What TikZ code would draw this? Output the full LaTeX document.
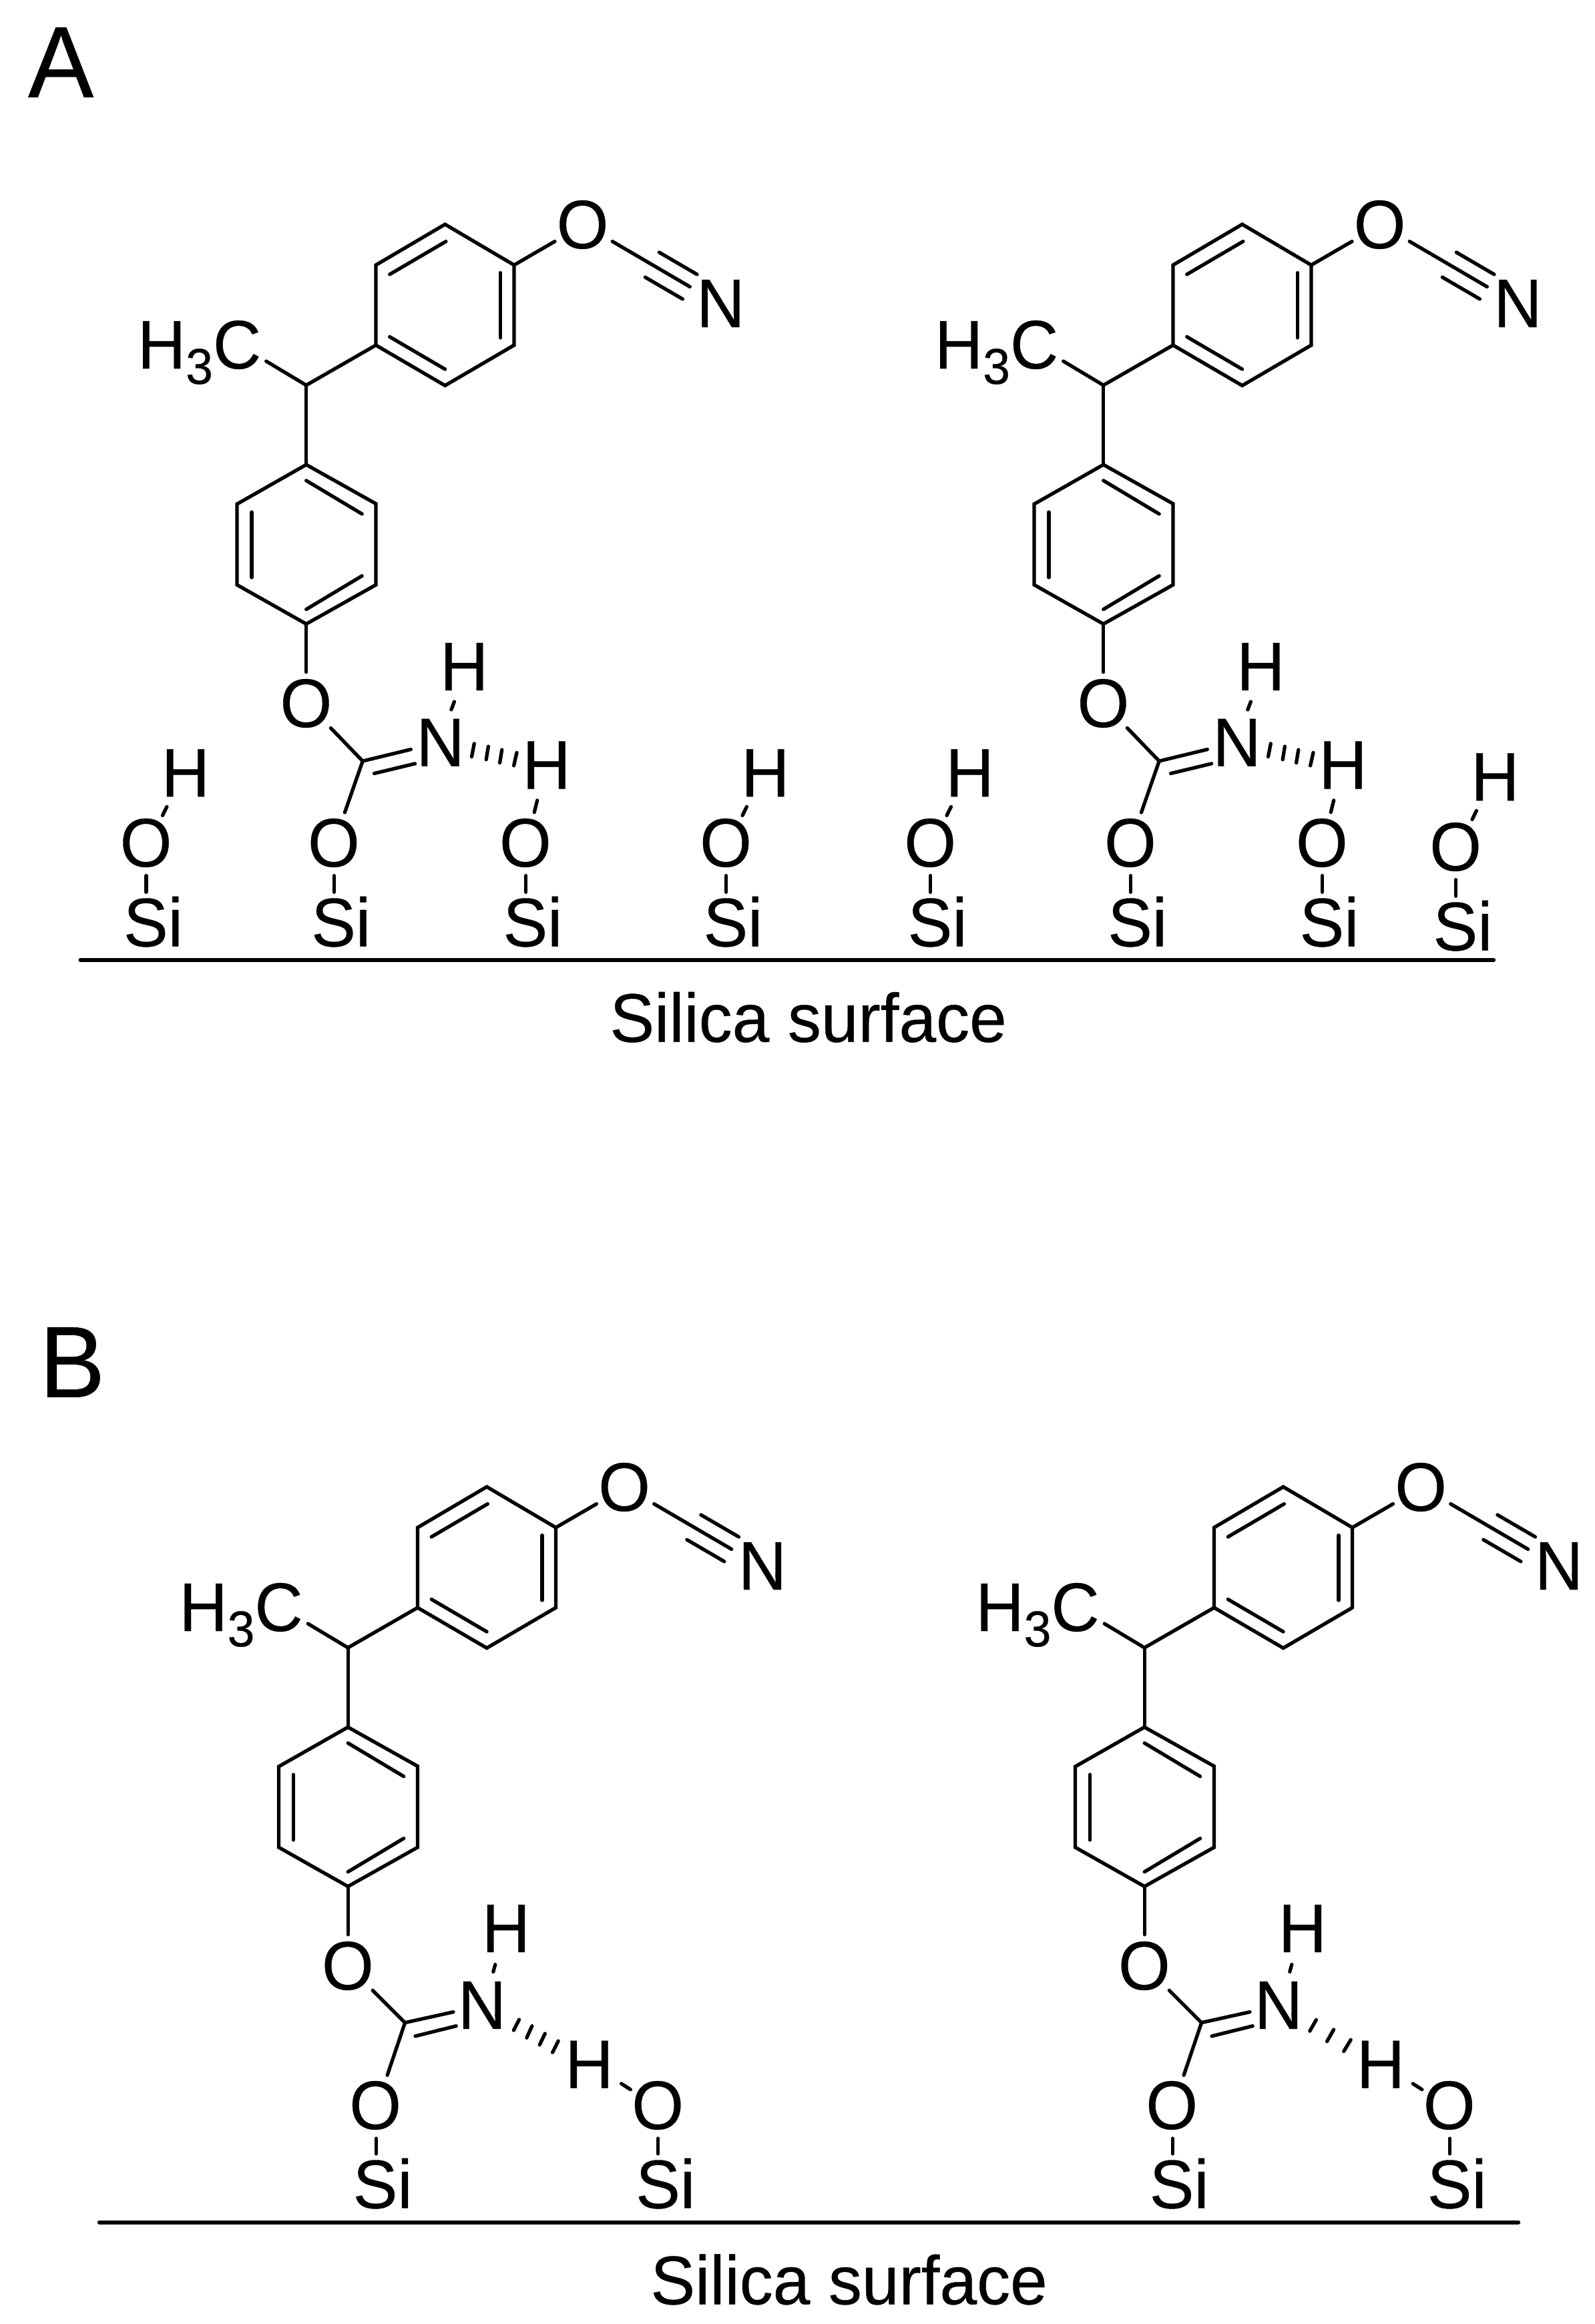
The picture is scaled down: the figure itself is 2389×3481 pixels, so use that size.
\documentclass[tikz,border=0pt]{standalone}
\usepackage{fontspec}
\setmainfont{Liberation Sans}
\newfontfamily\chemf{Liberation Sans}[FakeStretch=0.97,FakeBold=0.35]
\tikzset{
  atom/.style={inner sep=0pt,outer sep=0pt,anchor=base,font=\chemf\fontsize{29.3}{34}\selectfont},
  panel/.style={inner sep=0pt,outer sep=0pt,anchor=base west,font=\chemf\fontsize{43.2}{48}\selectfont},
  caption/.style={inner sep=0pt,outer sep=0pt,anchor=base west,font=\chemf\fontsize{29.3}{34}\selectfont},
  bond/.style={line width=1.5pt,line cap=round,line join=miter,black},
  surface/.style={line width=1.6pt,line cap=round,black}
}
% upper molecule: both rings, cyanate, CH3 and the carbamate O
\newcommand{\molupper}[3]{%
\begin{scope}[shift={(#2,#3)}]
  \coordinate (#1a1) at (666.6,336); \coordinate (#1a2) at (770,397);
  \coordinate (#1a3) at (770,517); \coordinate (#1a4) at (666.6,577.5);
  \coordinate (#1a5) at (563,517); \coordinate (#1a6) at (563,397);
  \coordinate (#1b1) at (458.7,696); \coordinate (#1b2) at (563,754.5);
  \coordinate (#1b3) at (563,876); \coordinate (#1b4) at (458.7,934.6);
  \coordinate (#1b5) at (355,876); \coordinate (#1b6) at (355,755);
  \coordinate (#1ch) at (458.7,577);
  \draw[bond] (#1a1)--(#1a2)--(#1a3)--(#1a4)--(#1a5)--(#1a6)--cycle;
  \draw[bond] (#1b1)--(#1b2)--(#1b3)--(#1b4)--(#1b5)--(#1b6)--cycle;
  \coordinate (#1ai1) at (583.7,411); \coordinate (#1ai2) at (667.9,361.6);
  \coordinate (#1ai3) at (749.5,408.6); \coordinate (#1ai4) at (749.5,506);
  \coordinate (#1ai5) at (583.7,504.5); \coordinate (#1ai6) at (666.6,553);
  \coordinate (#1bi1) at (458.7,719.8); \coordinate (#1bi2) at (542.2,769.8);
  \coordinate (#1bi3) at (377,767); \coordinate (#1bi4) at (377,865);
  \coordinate (#1bi5) at (458.7,912.7); \coordinate (#1bi6) at (542.2,862.6);
  \draw[bond] (#1ai1)--(#1ai2); \draw[bond] (#1ai3)--(#1ai4); \draw[bond] (#1ai5)--(#1ai6);
  \draw[bond] (#1bi1)--(#1bi2); \draw[bond] (#1bi3)--(#1bi4); \draw[bond] (#1bi5)--(#1bi6);
  \draw[bond] (#1ch)--(#1a5); \draw[bond] (#1ch)--(#1b1);
  \node[atom,anchor=base west] (#1me) at (206,552) {H\raisebox{-0.23cm}{\fontsize{21.5}{24}\selectfont 3}C};
  \coordinate (#1mee) at (398.7,541); \draw[bond] (#1mee)--(#1ch);
  \node[atom] (#1oc) at (872.6,372) {O};
  \node[atom] (#1nc) at (1079.5,490) {N};
  \coordinate (#1oce) at (831,361.6); \draw[bond] (#1a2)--(#1oce);
  \coordinate (#1t1) at (917.2,361.6); \coordinate (#1t2) at (1033.3,429.5);
  \coordinate (#1t3) at (987.4,378); \coordinate (#1t4) at (1044,411);
  \coordinate (#1t5) at (966.3,415.2); \coordinate (#1t6) at (1022.4,447.9);
  \draw[bond] (#1t1)--(#1t2); \draw[bond] (#1t3)--(#1t4); \draw[bond] (#1t5)--(#1t6);
  \node[atom] (#1op) at (458.4,1089) {O};
  \coordinate (#1ope) at (458.7,1006.7); \draw[bond] (#1b4)--(#1ope);
\end{scope}}
% panel A: carbamate with its hydrogen-bond hashes and the neighbouring silanol
\newcommand{\carbA}[2]{%
\begin{scope}[shift={(#2,0)}]
  \coordinate (#1c) at (543.2,1140);
  \coordinate (#1c1) at (495.4,1090.4); \draw[bond] (#1c1)--(#1c);
  \coordinate (#1c2) at (516.4,1217); \draw[bond] (#1c)--(#1c2);
  \coordinate (#1c3) at (615.3,1122.5); \draw[bond] (#1c)--(#1c3);
  \coordinate (#1c4) at (560.5,1158.5); \coordinate (#1c5) at (621.7,1143.8); \draw[bond] (#1c4)--(#1c5);
  \node[atom] (#1n) at (659.6,1147.7) {N};
  \node[atom] (#1hn) at (695.3,1034) {H};
  \coordinate (#1nh1) at (680.4,1051); \coordinate (#1nh2) at (675.9,1063); \draw[bond] (#1nh1)--(#1nh2);
  \foreach \i/\xa/\ya/\xb/\yb in {1/710.3/1113.8/706.5/1133.4,2/731.4/1118/728.2/1137.7,3/751.8/1123/748.6/1142.5,4/774/1127.3/769.6/1146.8}{
    \coordinate (#1h\i a) at (\xa,\ya); \coordinate (#1h\i b) at (\xb,\yb); \draw[bond] (#1h\i a)--(#1h\i b);}
  \node[atom] (#1hs) at (818.4,1181.5) {H};
  \coordinate (#1s1) at (804.7,1198.8); \coordinate (#1s2) at (800.3,1216.6); \draw[bond] (#1s1)--(#1s2);
  \node[atom] (#1os) at (786.9,1298) {O};
  \coordinate (#1s3) at (787.5,1311.6); \coordinate (#1s4) at (787.5,1336.3); \draw[bond] (#1s3)--(#1s4);
  \node[atom] (#1si) at (798,1417.4) {Si};
  \node[atom] (#1ol) at (499.9,1298) {O};
  \coordinate (#1l1) at (500.5,1311.6); \coordinate (#1l2) at (500.5,1336.3); \draw[bond] (#1l1)--(#1l2);
  \node[atom] (#1sl) at (510.7,1417.4) {Si};
\end{scope}}
% free surface silanol
\newcommand{\silanol}[3]{%
\begin{scope}[shift={(#2,#3)}]
  \node[atom] (#1h) at (278,1193.2) {H};
  \coordinate (#1b1) at (249.9,1208.4); \coordinate (#1b2) at (243.5,1221.4); \draw[bond] (#1b1)--(#1b2);
  \node[atom] (#1o) at (218.6,1298) {O};
  \coordinate (#1b3) at (219,1311.6); \coordinate (#1b4) at (219,1336.3); \draw[bond] (#1b3)--(#1b4);
  \node[atom] (#1s) at (229.5,1417.4) {Si};
\end{scope}}
% panel B: carbamate (hashes are given separately)
\newcommand{\carbB}[2]{%
\begin{scope}[shift={(#2,0)}]
  \coordinate (#1c) at (606.6,3029.6);
  \coordinate (#1c1) at (558.2,2981.2); \draw[bond] (#1c1)--(#1c);
  \coordinate (#1c2) at (580.1,3108.3); \draw[bond] (#1c)--(#1c2);
  \coordinate (#1c3) at (679,3013.6); \draw[bond] (#1c)--(#1c3);
  \coordinate (#1c4) at (622,3049.8); \coordinate (#1c5) at (683.2,3034.6); \draw[bond] (#1c4)--(#1c5);
  \node[atom] (#1n) at (722,3038.9) {N};
  \node[atom] (#1hn) at (758,2924) {H};
  \coordinate (#1nh1) at (741.8,2942.5); \coordinate (#1nh2) at (738.8,2953.4); \draw[bond] (#1nh1)--(#1nh2);
  \node[atom] (#1ol) at (562.2,3189) {O};
  \coordinate (#1l1) at (563.3,3203); \coordinate (#1l2) at (563.3,3226); \draw[bond] (#1l1)--(#1l2);
  \node[atom] (#1sl) at (573.2,3307.4) {Si};
\end{scope}}
\newcommand{\silanolB}[2]{%
\begin{scope}[shift={(#2,0)}]
  \node[atom] (#1h) at (882.4,3127.7) {H};
  \coordinate (#1b1) at (930.6,3120.9); \coordinate (#1b2) at (944.4,3129.8); \draw[bond] (#1b1)--(#1b2);
  \node[atom] (#1o) at (985.2,3189) {O};
  \coordinate (#1b3) at (985.7,3203); \coordinate (#1b4) at (985.7,3226); \draw[bond] (#1b3)--(#1b4);
  \node[atom] (#1s) at (996.7,3307.4) {Si};
\end{scope}}
\begin{document}
\begin{tikzpicture}[x=0.01cm,y=-0.01cm]
\useasboundingbox (0,0) rectangle (2389,3481);
\node[panel] (lblA) at (42,145.7) {A};
\node[panel] (lblB) at (59,2092.7) {B};
% panel A
\molupper{p}{0}{0}
\molupper{q}{1194}{0}
\carbA{u}{0}
\carbA{v}{1193}
\silanol{s1}{0}{0}
\silanol{s4}{868.5}{0}
\silanol{s5}{1174.6}{0}
\silanol{s8}{1961.5}{6}
\coordinate (surfAl) at (120.4,1437.8);
\coordinate (surfAr) at (2237.3,1437.8);
\draw[surface] (surfAl)--(surfAr);
\node[caption] (capA) at (913.5,1560.5) {Silica surface};
% panel B
\molupper{r}{62.5}{1891}
\molupper{t}{1255.5}{1891}
\carbB{w}{0}
\carbB{x}{1193}
\silanolB{y1}{0}
\silanolB{y2}{1185.5}
\foreach \i/\xa/\ya/\xb/\yb in {1/777.6/3025/769.4/3041,2/796.9/3034.6/788.8/3052.3,3/816.3/3046/808.2/3062.8,4/836.2/3057/827.6/3074.2}{
  \coordinate (ha\i) at (\xa,\ya); \coordinate (hb\i) at (\xb,\yb); \draw[bond] (ha\i)--(hb\i);}
\foreach \i/\xa/\ya/\xb/\yb in {1/1971.4/3025.4/1961.8/3042.2,2/1997.6/3040/1987.5/3057.8,3/2023.2/3055.3/2012.7/3072.5}{
  \coordinate (hc\i) at (\xa,\ya); \coordinate (hd\i) at (\xb,\yb); \draw[bond] (hc\i)--(hd\i);}
\coordinate (surfBl) at (148.7,3328.8);
\coordinate (surfBr) at (2274.4,3328.8);
\draw[surface] (surfBl)--(surfBr);
\node[caption] (capB) at (974.5,3451.3) {Silica surface};
\end{tikzpicture}
\end{document}
